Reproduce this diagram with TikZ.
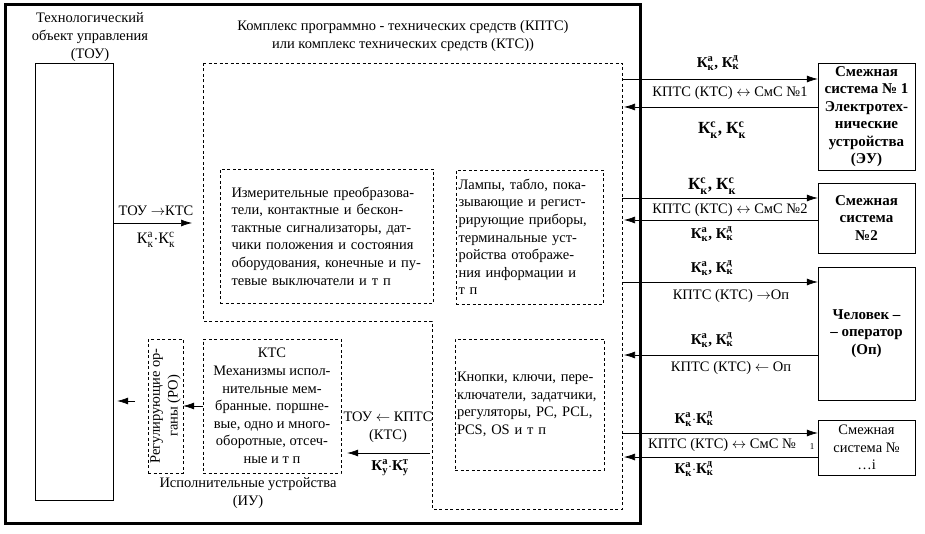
\documentclass[tikz,border=0pt]{standalone}
\usepackage{fontspec}
\usepackage{amsmath}
\setmainfont{Liberation Serif}
\usetikzlibrary{arrows.meta}
\newcommand{\kidx}[2]{К$^{\text{#1}}_{\text{#2}}$}
\begin{document}
\begin{tikzpicture}[x=1pt,y=-1pt,
  every node/.style={font=\fontsize{14.5}{17.6}\selectfont},
  dbox/.style={draw,dash pattern=on 3pt off 2.5pt,inner sep=0pt},
  sbox/.style={draw,inner sep=0pt,align=center,minimum width=97pt,font=\fontsize{15}{17.5}\selectfont\bfseries},
  klab/.style={font=\fontsize{15}{17.6}\selectfont\bfseries},
  sig/.style={arrows=-{Latex[length=11pt,width=7pt]},line width=0.7pt}]
\useasboundingbox (0,0) rectangle (925,534);
\draw[line width=3pt] (5,5) rectangle (640,523);
\node[align=center] (toutxt) at (90,37) {Технологический\\объект управления\\(ТОУ)};
\node[draw,minimum width=78pt,minimum height=437pt] (tou) at (74,281.5) {};
\node[align=center] (kptstxt) at (403,36) {Комплекс программно - технических средств (КПТС)\\или комплекс технических средств (КТС))};
\draw[dbox] (203,63) -- (622,63) -- (622,509) -- (432,509) -- (432,321) -- (203,321) -- cycle;
\coordinate (kr) at (622,63);
\node[dbox,minimum width=213pt,minimum height=134pt,text width=190pt,align=left] (izm) at (326.5,236)
  {Измерительные преобразова-\\тели, контактные и бескон-\\тактные сигнализаторы, дат-\\чики положения и состояния\\оборудования, конечные и пу-\\тевые выключатели и т п};
\node[dbox,minimum width=147pt,minimum height=134pt,text width=142pt,align=left] (lamp) at (529.5,237)
  {Лампы, табло, пока-\\зывающие и регист-\\рирующие приборы,\\терминальные уст-\\ройства отображе-\\ния информации и\\т п};
\node[dbox,minimum width=149pt,minimum height=131pt,text width=145pt,align=left] (knop) at (529.5,404.5)
  {Кнопки, ключи, пере-\\ключатели, задатчики,\\регуляторы, PC, PCL,\\PCS, OS и т п};
\node[dbox,minimum width=138pt,minimum height=134pt,align=center] (iu) at (272,406)
  {КТС\\Механизмы испол-\\нительные мем-\\бранные. поршне-\\вые, одно и много-\\оборотные, отсеч-\\ные и т п};
\node[dbox,minimum width=35pt,minimum height=134pt] (ro) at (165.5,406) {};
\node[rotate=90,align=center] (rotxt) at (ro.center) {Регулирующие ор-\\ганы (РО)};
\node[align=center] (iutxt) at (248,493) {Исполнительные устройства\\(ИУ)};
\coordinate (a1) at (192,223);
\draw[sig] (tou.east |- a1) -- (a1);
\node (a1t) at (156,211) {ТОУ $\rightarrow$КТС};
\node[font=\fontsize{16}{17.6}\selectfont] (a1b) at (156,240) {\kidx{а}{к}$\cdot$\kidx{с}{к}};
\coordinate (a2) at (430,453);
\draw[sig] (a2) -- ([xshift=6pt]iu.east |- a2);
\node[align=center] (a2t) at (388,427) {ТОУ $\leftarrow$ КПТС\\(КТС)};
\node[klab] (a2b) at (390,468) {\kidx{а}{у}$\cdot$\kidx{т}{у}};
\draw[sig] (iu.west) -- (ro.east);
\coordinate (a3) at (135,401);
\draw[sig] (a3) -- ([xshift=4pt]tou.east |- a3);
\node[sbox,minimum height=107pt] (smc1) at (866.5,116.5) {Смежная\\система № 1\\Электротех-\\нические\\устройства\\(ЭУ)};
\node[sbox,minimum height=70pt] (smc2) at (866.5,218) {Смежная\\система\\№2};
\node[sbox,minimum height=133pt] (op) at (866.5,333.5) {Человек –\\– оператор\\(Оп)};
\node[sbox,minimum height=55pt,font=\fontsize{14.5}{17.5}\selectfont] (smci) at (866.5,447.5) {Смежная\\система №\\…i};
\foreach \y/\b in {79/smc1,198/smc2,282/op,433/smci}
  \draw[sig] (kr |- 0,\y) -- (\b.west |- 0,\y);
\foreach \y/\b in {107/smc1,220/smc2,355/op,457/smci}
  \draw[sig] (\b.west |- 0,\y) -- ([xshift=2pt]kr |- 0,\y);
\node[klab] (l1a) at (718,63) {\kidx{а}{к}, \kidx{д}{к}};
\node (l1b) at (730,93) {КПТС (КТС) $\leftrightarrow$ СмС №1};
\node[font=\fontsize{17}{17.6}\selectfont\bfseries] (l1c) at (722,130) {\kidx{с}{к}, \kidx{с}{к}};
\node[font=\fontsize{17}{17.6}\selectfont\bfseries] (l2a) at (712,186) {\kidx{с}{к}, \kidx{с}{к}};
\node (l2b) at (730,210) {КПТС (КТС) $\leftrightarrow$ СмС №2};
\node[klab] (l2c) at (712,234) {\kidx{а}{к}, \kidx{д}{к}};
\node[klab] (l3a) at (712,268) {\kidx{а}{к}, \kidx{д}{к}};
\node (l3b) at (731,296) {КПТС (КТС) $\rightarrow$Оп};
\node[klab] (l4a) at (712,340) {\kidx{а}{к}, \kidx{д}{к}};
\node (l4b) at (731,368) {КПТС (КТС) $\leftarrow$ Оп};
\node[klab] (l5a) at (694,419) {\kidx{а}{к}$\cdot$\kidx{д}{к}};
\node (l5b) at (722,445) {КПТС (КТС) $\leftrightarrow$ СмС №};
\node[font=\fontsize{9}{10}\selectfont] (l5n) at (812,447) {1};
\node[klab] (l5c) at (694,469) {\kidx{а}{к}$\cdot$\kidx{д}{к}};
\end{tikzpicture}
\end{document}
